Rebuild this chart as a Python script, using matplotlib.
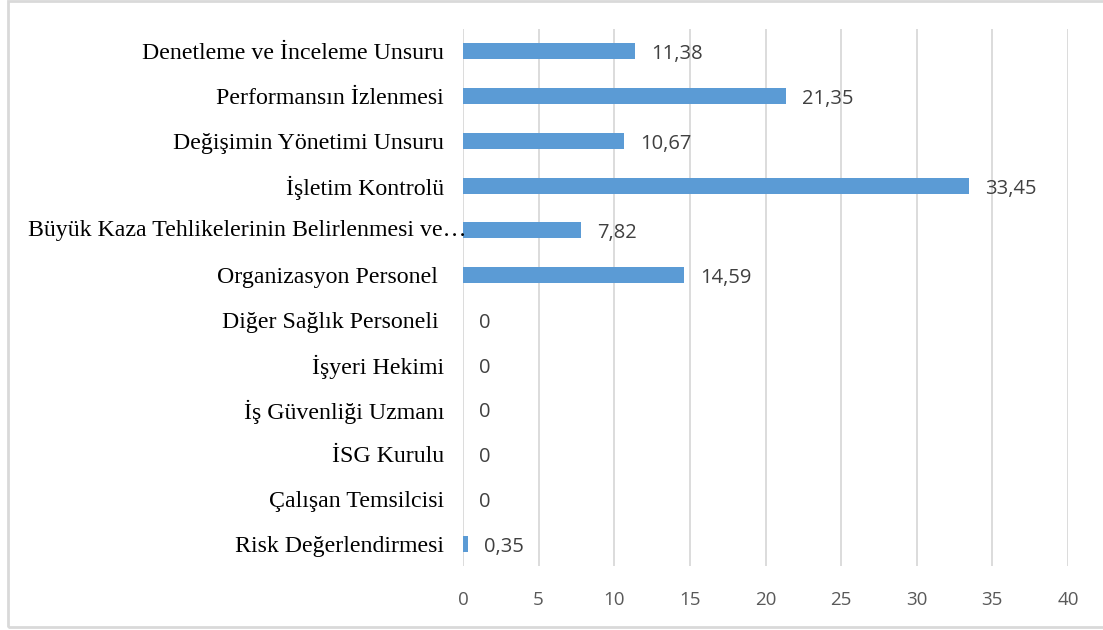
import matplotlib.pyplot as plt
from matplotlib.patches import Rectangle

categories = [
    "Risk Değerlendirmesi",
    "Çalışan Temsilcisi",
    "İSG Kurulu",
    "İş Güvenliği Uzmanı",
    "İşyeri Hekimi",
    "Diğer Sağlık Personeli ",
    "Organizasyon Personel ",
    "Büyük Kaza Tehlikelerinin Belirlenmesi ve…",
    "İşletim Kontrolü",
    "Değişimin Yönetimi Unsuru",
    "Performansın İzlenmesi",
    "Denetleme ve İnceleme Unsuru",
]
values = [0.35, 0, 0, 0, 0, 0, 14.59, 7.82, 33.45, 10.67, 21.35, 11.38]
xticks = [0, 5, 10, 15, 20, 25, 30, 35, 40]

W, H = 1103, 630
fig = plt.figure(figsize=(W / 100, H / 100), dpi=100)
ax = fig.add_axes([463 / W, 1 - 566 / H, (1068 - 463) / W, (566 - 29) / H])

y = range(len(categories))
ax.barh(y, values, height=0.36, color="#5B9BD5", zorder=3)
ax.set_xlim(0, 40)
ax.set_ylim(-0.5, len(categories) - 0.5)
ax.set_xticks(xticks)
ax.set_xticklabels([str(t) for t in xticks], fontfamily="Open Sans", fontsize=13.5, color="#595959")

# the truncated long label runs into the axis in the original, so place it by hand
long_idx = [i for i, c in enumerate(categories) if c.endswith("…")]
ax.set_yticks(list(y))
ax.set_yticklabels(["" if i in long_idx else c for i, c in enumerate(categories)],
                   fontfamily="Liberation Serif", fontsize=17.2, color="black")
for i in long_idx:
    ax.annotate(categories[i], (0, i), xytext=(3, 0), textcoords="offset pixels",
                ha="right", va="center", fontfamily="Liberation Serif", fontsize=17.2,
                color="black", zorder=4)
ax.tick_params(axis="both", length=0)
ax.tick_params(axis="y", pad=13.5)
ax.tick_params(axis="x", pad=18)
ax.grid(axis="x", color="#d9d9d9", linewidth=1.3, zorder=0)
for s in ax.spines.values():
    s.set_visible(False)

for i, v in enumerate(values):
    txt = f"{v:.2f}".replace(".", ",") if v else "0"
    ax.annotate(txt, (v, i), xytext=(16, -3), textcoords="offset pixels",
                va="center", ha="left", fontfamily="Open Sans", fontsize=14.5, color="#404040")

fig.patches.append(Rectangle((8 / W, 3 / H), 1.2, 1 - 4 / H, transform=fig.transFigure,
                             fill=False, edgecolor="#d9d9d9", linewidth=2))

fig.savefig("out.png", dpi=100)
